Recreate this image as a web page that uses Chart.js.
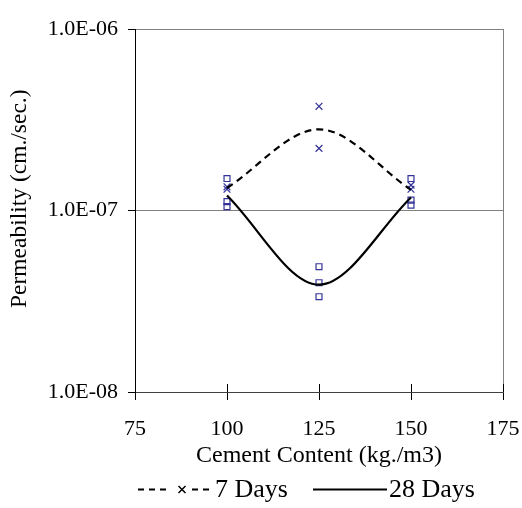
<!DOCTYPE html>
<html>
<head>
<meta charset="utf-8">
<script src="https://cdn.jsdelivr.net/npm/chart.js@4.4.1/dist/chart.umd.min.js"></script>
<style>
  html, body { margin: 0; padding: 0; background: #fff; }
  #wrap { width: 522px; height: 508px; }
</style>
</head>
<body>
<div id="wrap"><canvas id="chart"></canvas></div>
<script>
// cement content (kg/m3) where the smoothed trend lines pass
const cementContent = [100, 125, 150];
const fit7Days = [1.33e-7, 2.8e-7, 1.3e-7];
const fit28Days = [1.21e-7, 3.9e-8, 1.18e-7];

// individual test results
const test7X = [100, 100, 125, 125, 150, 150];
const test7Y = [1.35e-7, 1.31e-7, 3.75e-7, 2.2e-7, 1.38e-7, 1.31e-7];
const test28X = [100, 100, 100, 125, 125, 125, 150, 150, 150];
const test28Y = [1.5e-7, 1.12e-7, 1.05e-7, 4.9e-8, 4.0e-8, 3.35e-8, 1.5e-7, 1.14e-7, 1.07e-7];

const xTicks = [75, 100, 125, 150, 175];
const yTicks = [1e-8, 1e-7, 1e-6];
const seriesNames = ['7 Days', '28 Days'];

const serif = "'Liberation Serif', 'Times New Roman', serif";
const markBlue = '#333399';

function pts(xs, ys) {
  return xs.map((x, i) => ({x: x, y: ys[i]}));
}

function sciLabel(v) {
  let [m, e] = v.toExponential(1).split('e');
  e = parseInt(e, 10);
  return m + 'E' + (e < 0 ? '-' : '+') + String(Math.abs(e)).padStart(2, '0');
}

// x ticks in the original cross the axis line, so add the inner half
const innerTicks = {
  id: 'innerTicks',
  afterDraw(chart) {
    const x = chart.scales.x, g = chart.ctx, b = chart.chartArea.bottom;
    g.save();
    g.strokeStyle = '#000';
    g.lineWidth = 1;
    x.ticks.forEach(t => {
      const px = Math.round(x.getPixelForValue(t.value)) + 0.5;
      g.beginPath(); g.moveTo(px, b - 8); g.lineTo(px, b); g.stroke();
    });
    g.restore();
  }
};

// legend drawn below the axis title, like the excel one
const legendSpots = [{x: 138, w: 75}, {x: 313, w: 74}];
const seriesLegend = {
  id: 'seriesLegend',
  afterDraw(chart) {
    const g = chart.ctx, y = 489.5;
    g.save();
    g.strokeStyle = '#000';
    g.fillStyle = '#000';
    g.font = '26px ' + serif;
    g.textBaseline = 'middle';
    legendSpots.forEach((s, i) => {
      g.lineWidth = 1.8;
      if (i === 0) {
        g.setLineDash([6, 5]);
        g.beginPath(); g.moveTo(s.x, y); g.lineTo(s.x + 33, y); g.stroke();
        g.beginPath(); g.moveTo(s.x + 54, y); g.lineTo(s.x + s.w, y); g.stroke();
        g.setLineDash([]);
        g.lineWidth = 1.5;
        const cx = s.x + 44;
        g.beginPath();
        g.moveTo(cx - 3.5, y - 3.5); g.lineTo(cx + 3.5, y + 3.5);
        g.moveTo(cx + 3.5, y - 3.5); g.lineTo(cx - 3.5, y + 3.5);
        g.stroke();
      } else {
        g.beginPath(); g.moveTo(s.x, y); g.lineTo(s.x + s.w, y); g.stroke();
      }
      g.fillText(seriesNames[i], s.x + s.w + 2, y + 1);
    });
    g.restore();
  }
};

const data = {
  datasets: [{
    label: seriesNames[0],
    data: pts(cementContent, fit7Days),
    showLine: true,
    borderColor: '#000',
    borderWidth: 2.2,
    borderDash: [7, 5],
    cubicInterpolationMode: 'monotone',
    pointRadius: 0
  }, {
    label: seriesNames[1],
    data: pts(cementContent, fit28Days),
    showLine: true,
    borderColor: '#000',
    borderWidth: 2.2,
    cubicInterpolationMode: 'monotone',
    pointRadius: 0
  }, {
    label: '7 Days tests',
    data: pts(test7X, test7Y),
    pointStyle: 'crossRot',
    pointRadius: 4.8,
    borderColor: markBlue,
    borderWidth: 1.2
  }, {
    label: '28 Days tests',
    data: pts(test28X, test28Y),
    pointStyle: 'rect',
    pointRadius: 4.2,
    backgroundColor: 'transparent',
    borderColor: markBlue,
    borderWidth: 1.2
  }]
};

const config = {
  type: 'scatter',
  data: data,
  plugins: [innerTicks, seriesLegend],
  options: {
    responsive: true,
    maintainAspectRatio: false,
    animation: false,
    layout: {padding: {top: 29, right: 19, left: 0, bottom: 40}},
    plugins: {
      tooltip: {enabled: false},
      legend: {display: false}
    },
    scales: {
      x: {
        type: 'linear',
        min: 75,
        max: 175,
        afterBuildTicks: s => { s.ticks = xTicks.map(v => ({value: v})); },
        afterFit: s => { s.height = 76; s.paddingRight = 0; s.paddingLeft = 0; },
        ticks: {color: '#000', padding: 16, font: {family: serif, size: 22}},
        grid: {
          color: c => c.tick && c.tick.value === 175 ? '#808080' : 'transparent',
          tickColor: '#000',
          tickLength: 8
        },
        border: {color: '#404040', width: 1},
        title: {
          display: true,
          text: 'Cement Content (kg./m3)',
          color: '#000',
          font: {family: serif, size: 24, lineHeight: 1},
          padding: {top: 0, bottom: 0}
        }
      },
      y: {
        type: 'logarithmic',
        min: 1e-8,
        max: 1e-6,
        afterBuildTicks: s => { s.ticks = yTicks.map(v => ({value: v})); },
        afterFit: s => { s.width = 135; },
        ticks: {
          color: '#000',
          padding: 10,
          font: {family: serif, size: 22},
          callback: v => sciLabel(v)
        },
        grid: {color: '#808080', tickColor: '#000', tickLength: 7},
        border: {color: '#000', width: 1},
        title: {
          display: true,
          // leading spaces nudge the rotated title up a little, as in the original
          text: '    Permeability (cm./sec.)',
          color: '#000',
          font: {family: serif, size: 23.5, lineHeight: 1.2},
          padding: {top: 6, bottom: 0}
        }
      }
    }
  }
};

new Chart(document.getElementById('chart').getContext('2d'), config);
</script>
</body>
</html>
